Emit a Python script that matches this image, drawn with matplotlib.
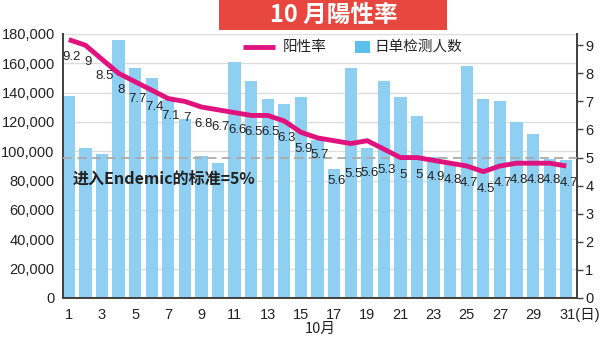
import matplotlib
matplotlib.use("Agg")
import matplotlib.pyplot as plt
import matplotlib.transforms as mtransforms
from matplotlib.patches import Rectangle

plt.rcParams["font.family"] = ["Liberation Sans", "Noto Sans CJK SC", "DejaVu Sans"]

# --- data ---
days = list(range(1, 32))
tests = [138000, 102000, 98000, 176000, 157000, 150000, 135000, 122000, 97000, 92000,
         161000, 148000, 136000, 132000, 137000, 108000, 88000, 157000, 102000, 148000,
         137000, 124000, 96000, 92000, 158000, 136000, 134000, 120000, 112000, 95000, 94000]
rate = [9.2, 9, 8.5, 8, 7.7, 7.4, 7.1, 7, 6.8, 6.7, 6.6, 6.5, 6.5, 6.3, 5.9, 5.7,
        5.6, 5.5, 5.6, 5.3, 5, 5, 4.9, 4.8, 4.7, 4.5, 4.7, 4.8, 4.8, 4.8, 4.7]
left_ticks = list(range(0, 180001, 20000))
right_ticks = list(range(0, 10))
x_ticks = list(range(1, 32, 2))
endemic_level = 5

BAR_COLOR = "#8ecff2"
LEGEND_BLUE = "#5cc0ec"
LINE_COLOR = "#e0127e"
TEXT = "#222222"
CJK = ["Noto Sans CJK SC", "DejaVu Sans"]

fig = plt.figure(figsize=(6, 3.43), dpi=100)
ax = fig.add_axes([0.105, 0.1312, 0.8567, 0.7697])
ax2 = ax.twinx()

# bars (daily tests)
ax.bar(days, tests, width=0.74, color=BAR_COLOR, zorder=2)
ax.set_xlim(0.65, 31.65)
ax.set_ylim(0, 180000)
ax.set_yticks(left_ticks)
ax.set_yticklabels([f"{v:,}" for v in left_ticks], fontsize=10.5, color=TEXT)
ax.set_axisbelow(True)
ax.grid(axis="y", color="#dddddd", linewidth=1)
ax.tick_params(axis="y", length=0, pad=6)
ax.tick_params(axis="x", length=0, pad=7)
ax.set_xticks(x_ticks)
labels = [str(d) for d in x_ticks]
labels[-1] = "31(日)"
ax.set_xticklabels(labels, fontsize=10.5, color=TEXT)
last = ax.get_xticklabels()[-1]
last.set_ha("left")
last.set_transform(last.get_transform() + mtransforms.ScaledTranslation(-7 / 100, 0, fig.dpi_scale_trans))
ax.set_xlabel("10月", fontsize=10.5, family=CJK, labelpad=0, color=TEXT)

for a in (ax, ax2):
    a.spines["top"].set_visible(False)
    for side in ["left", "right", "bottom"]:
        a.spines[side].set_color("#444444")
        a.spines[side].set_linewidth(1.4)

# positivity line
ax2.plot(days, rate, color=LINE_COLOR, linewidth=3.5, solid_capstyle="butt", zorder=4)
ax2.set_ylim(0, 9.4)
ax2.set_yticks(right_ticks)
ax2.set_yticklabels([str(v) for v in right_ticks], fontsize=10.5, color=TEXT)
ax2.tick_params(axis="y", length=4, width=1, color="#444444", pad=2)

# endemic threshold
ax2.axhline(endemic_level, color="#aaaaaa", linestyle=(0, (5, 3)), linewidth=1.3, zorder=3)
ax2.text(1.25, 4.25, "进入Endemic的标准=5%", fontsize=11.5, fontweight="bold",
         family=CJK, color=TEXT, va="center", ha="left")

# value labels under the line
drops = {17: 40, 18: 30, 19: 32, 20: 21}
for d, r in zip(days, rate):
    off = drops.get(d, 17)
    ax2.annotate(f"{r:g}", (d, r), xytext=(2.5, -off), textcoords="offset pixels",
                 ha="center", va="center", fontsize=9.5,
                 family=["Liberation Sans Narrow", "Liberation Sans"],
                 color=TEXT, zorder=5)

# legend drawn by hand so the swatch stays square
ly = 0.951
ax2.plot([0.350, 0.412], [ly, ly], transform=ax2.transAxes, color=LINE_COLOR,
         linewidth=3.5, solid_capstyle="butt", zorder=6)
ax2.text(0.428, ly, "阳性率", transform=ax2.transAxes, family=CJK, fontsize=10.5,
         color=TEXT, va="center", ha="left")
ax2.add_patch(Rectangle((0.568, ly - 0.023), 0.029, 0.046, transform=ax2.transAxes,
                        facecolor=LEGEND_BLUE, edgecolor="none", zorder=6))
ax2.text(0.606, ly, "日单检测人数", transform=ax2.transAxes, family=CJK, fontsize=10.5,
         color=TEXT, va="center", ha="left")

# title box
fig.patches.append(Rectangle((0.365, 0.9125), 0.380, 0.0875, transform=fig.transFigure,
                             facecolor="#e8473f", edgecolor="none", zorder=0))
fig.text(0.556, 0.956, "10 月陽性率", color="white", fontsize=17, fontweight="bold",
         family=CJK, ha="center", va="center")

fig.savefig("out.png", dpi=100)
